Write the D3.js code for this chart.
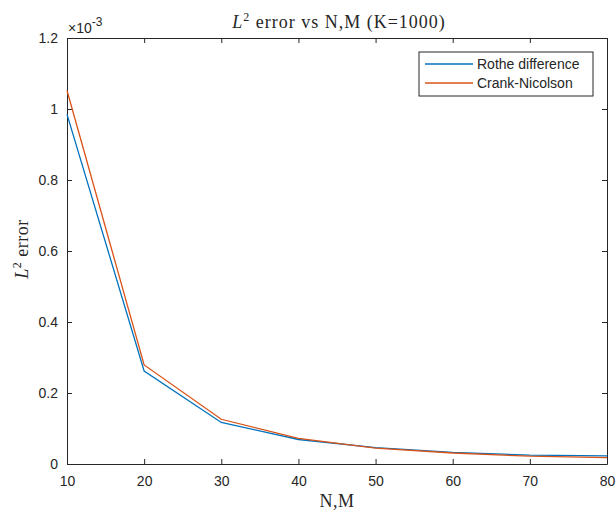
<!DOCTYPE html>
<html>
<head>
<meta charset="utf-8">
<script src="https://cdn.jsdelivr.net/npm/d3@7"></script>
<style>
  body { margin: 0; background: #fff; }
  svg text { fill: #262626; }
</style>
</head>
<body>
<div id="chart"></div>
<script>
// data (values in units of 1e-3)
const nm = [10, 20, 30, 40, 50, 60, 70, 80];
const rothe = [0.985, 0.262, 0.117, 0.069, 0.046, 0.033, 0.025, 0.023];
const crank = [1.052, 0.279, 0.126, 0.072, 0.045, 0.031, 0.022, 0.018];
const xTicks = [10, 20, 30, 40, 50, 60, 70, 80];
const yTicks = [0, 0.2, 0.4, 0.6, 0.8, 1, 1.2];
const seriesNames = ["Rothe difference", "Crank-Nicolson"];
const seriesColors = ["#0072BD", "#D95319"];

const W = 616, H = 512;
const margin = { top: 38, right: 9, bottom: 48, left: 67 };
const width = W - margin.left - margin.right,
  height = H - margin.top - margin.bottom;

const svg = d3.select("#chart").append("svg")
  .attr("width", W).attr("height", H);
const g = svg.append("g")
  .attr("transform", "translate(" + margin.left + "," + margin.top + ")");

const x = d3.scaleLinear().domain([10, 80]).range([0, width]);
const y = d3.scaleLinear().domain([0, 1.2]).range([height, 0]);

const axisColor = "#262626";
const sans = "'Liberation Sans', Arial, sans-serif";
const serif = "'Liberation Serif', 'Times New Roman', serif";

// axes with inward ticks, all four sides
const fmt = d => d3.format("")(+d.toFixed(1));
const xb = g.append("g").attr("transform", "translate(0," + height + ")")
  .call(d3.axisBottom(x).tickValues(xTicks).tickSizeInner(-5).tickSizeOuter(0).tickPadding(12));
const xt = g.append("g")
  .call(d3.axisTop(x).tickValues(xTicks).tickSizeInner(-5).tickSizeOuter(0).tickFormat(""));
const yl = g.append("g")
  .call(d3.axisLeft(y).tickValues(yTicks).tickSizeInner(-5).tickSizeOuter(0).tickPadding(9).tickFormat(fmt));
const yr = g.append("g").attr("transform", "translate(" + width + ",0)")
  .call(d3.axisRight(y).tickValues(yTicks).tickSizeInner(-5).tickSizeOuter(0).tickFormat(""));

[xb, xt, yl, yr].forEach(a => {
  a.selectAll("path, line").attr("stroke", axisColor).attr("stroke-width", 1);
  a.selectAll("text").attr("fill", axisColor).style("font-family", sans).style("font-size", "14px");
});

// lines
const line = d3.line().x((d, i) => x(nm[i])).y(d => y(d));
[rothe, crank].forEach((s, k) => {
  g.append("path").datum(s)
    .attr("fill", "none")
    .attr("stroke", seriesColors[k])
    .attr("stroke-width", 1.3)
    .attr("d", line);
});

// exponent label
const ex = svg.append("text").attr("x", margin.left + 1).attr("y", 33)
  .style("font-family", sans).style("font-size", "14px");
ex.append("tspan").text("\u00d710");
ex.append("tspan").attr("dy", -7).style("font-size", "12px").text("-3");

// title
const title = svg.append("text")
  .attr("x", margin.left + width / 2 + 2).attr("y", 28)
  .attr("text-anchor", "middle")
  .style("font-family", serif).style("font-size", "18px")
  .style("letter-spacing", "1px");
title.append("tspan").style("font-style", "italic").text("L");
title.append("tspan").attr("dy", -7).style("font-size", "12px").text("2");
title.append("tspan").attr("dy", 7).text(" error vs N,M (K=1000)");

// x label
svg.append("text")
  .attr("x", margin.left + width / 2).attr("y", 507)
  .attr("text-anchor", "middle")
  .style("font-family", serif).style("font-size", "18px")
  .style("letter-spacing", "0.5px")
  .text("N,M");

// y label
const ylab = svg.append("text")
  .attr("transform", "translate(28," + (margin.top + height / 2 - 2) + ") rotate(-90)")
  .attr("text-anchor", "middle")
  .style("font-family", serif).style("font-size", "18px")
  .style("letter-spacing", "0.5px");
ylab.append("tspan").style("font-style", "italic").text("L");
ylab.append("tspan").attr("dy", -7).style("font-size", "12px").text("2");
ylab.append("tspan").attr("dy", 7).text(" error");

// legend
const lg = svg.append("g").attr("transform", "translate(419,52)");
lg.append("rect").attr("width", 174).attr("height", 44)
  .attr("fill", "#fff").attr("stroke", axisColor).attr("stroke-width", 1);
seriesNames.forEach((name, i) => {
  const row = lg.append("g").attr("transform", "translate(0," + (12 + i * 19) + ")");
  row.append("line").attr("x1", 6).attr("x2", 54).attr("y1", 0).attr("y2", 0)
    .attr("stroke", seriesColors[i]).attr("stroke-width", 1.3);
  row.append("text").attr("x", 58).attr("y", 5)
    .style("font-family", sans).style("font-size", "14px").text(name);
});
</script>
</body>
</html>
